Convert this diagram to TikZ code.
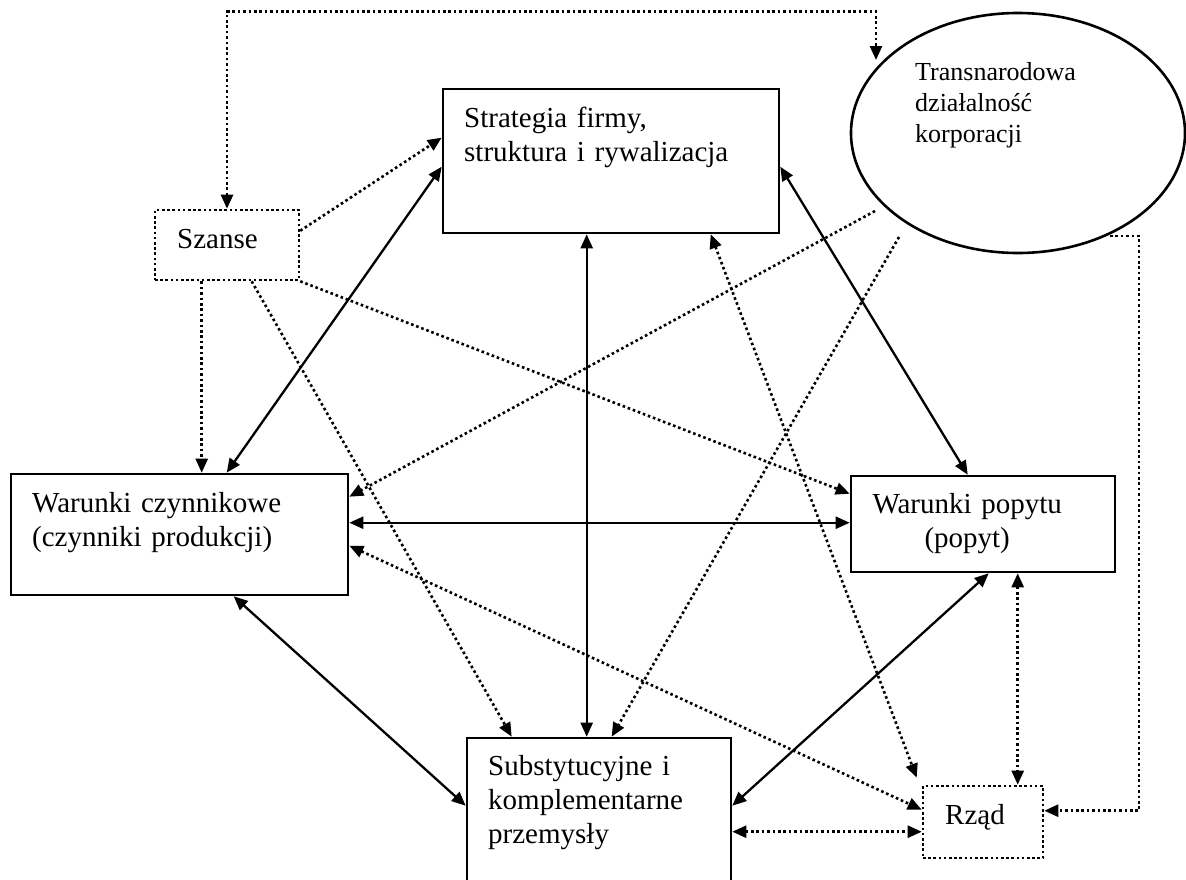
\documentclass[tikz,border=0pt]{standalone}
\usepackage{fontspec}
\setmainfont{Liberation Serif}
\usetikzlibrary{arrows.meta,shapes.geometric,calc}
\begin{document}
\begin{tikzpicture}[x=1pt,y=-1pt,
  >={Triangle[length=14pt,width=12pt]},
  box/.style={draw,line width=2.6pt,inner sep=0pt,fill=none},
  dbox/.style={draw,line width=2.6pt,inner sep=0pt,dash pattern=on 2.6pt off 2.6pt},
  sol/.style={line width=2.3pt},
  dot/.style={line width=2.6pt,dash pattern=on 2.6pt off 2.8pt},
  txt/.style={inner sep=0pt,anchor=base west,align=left,font=\fontsize{29}{34}\selectfont},
]
\useasboundingbox (0,0) rectangle (1186,879);
\clip (0,0) rectangle (1186,879);
\fill[white] (0,0) rectangle (1186,879);

% boxes
\node[box,minimum width=336pt,minimum height=144pt] (strat) at (611,161) {};
\node[box,ellipse,minimum width=334pt,minimum height=240pt] (trans) at (1018,133) {};
\node[dbox,minimum width=144pt,minimum height=70pt] (szanse) at (227,245) {};
\node[box,minimum width=337pt,minimum height=121pt] (wc) at (179.5,534.5) {};
\node[box,minimum width=264pt,minimum height=96pt] (wp) at (983,524) {};
\node[box,minimum width=264pt,minimum height=182pt] (sub) at (599,829) {};
\node[dbox,minimum width=120pt,minimum height=72pt] (rzad) at (983,822) {};

% texts
\node[txt,text width=320pt] (strat-t) at (464,127) {Strategia firmy,\\struktura i rywalizacja};
\node[txt,text width=200pt,font=\fontsize{26}{31}\selectfont] (trans-t) at (915,80) {Transnarodowa\\działalność\\korporacji};
\node[txt] (szanse-t) at (177,248) {Szanse};
\node[txt,text width=310pt] (wc-t) at (32,512) {Warunki czynnikowe\\(czynniki produkcji)};
\node[txt,text width=200pt,align=center] (wp-t) at (867,513) {Warunki popytu\\(popyt)};
\node[txt,text width=250pt] (sub-t) at (488,775) {Substytucyjne i\\komplementarne\\przemysły};
\node[txt] (rzad-t) at (945,824) {Rząd};

% solid connectors
\draw[sol,<->] ($(strat.north west)+(0,79)$) -- ($(wc.north west)+(217,0)$);
\draw[sol,<->] ($(strat.north east)+(0,79)$) -- ($(wp.north west)+(118,0)$);
\draw[sol,<->] ($(strat.south west)+(145,0)$) -- ($(sub.north west)+(121,0)$);
\draw[sol,<->] ($(wc.north east)+(0,50)$) -- ($(wp.north west)+(0,48)$);
\draw[sol,<->] ($(wc.south west)+(224,0)$) -- ($(sub.north west)+(0,69)$);
\draw[sol,<->] ($(wp.south west)+(139,0)$) -- ($(sub.north east)+(0,69)$);

% dotted connectors
\draw[dot,<->] (szanse.north) -- ++(0,-197) -| ($(trans.center)+(-142,-73)$);
\draw[dot,->] ($(szanse.north east)+(0,22)$) -- ($(strat.north west)+(0,50)$);
\draw[dot,->] (szanse.south east) -- ($(wp.north west)+(0,19)$);
\draw[dot,->] ($(szanse.south west)+(48,0)$) -- ($(wc.north west)+(192,0)$);
\draw[dot,->] ($(szanse.south west)+(98,0)$) -- ($(sub.north west)+(46,0)$);
\draw[dot,<->] ($(strat.south west)+(269,0)$) -- ($(rzad.north west)+(-5,-7)$);
\draw[dot,->] ($(trans.center)+(-143,78)$) -- ($(wc.north east)+(0,24)$);
\draw[dot,->] ($(trans.center)+(-119,104)$) -- ($(sub.north west)+(146,0)$);
\draw[dot,->] ($(trans.center)+(92,103)$) -- ++(29,0) |- ($(rzad.north east)+(0,26)$);
\draw[dot,<->] ($(wc.north east)+(0,73)$) -- ($(rzad.north west)+(0,25)$);
\draw[dot,<->] ($(wp.south west)+(168,0)$) -- ($(rzad.north west)+(96,0)$);
\draw[dot,<->] ($(sub.north east)+(0,95)$) -- ($(rzad.north west)+(0,47)$);
\end{tikzpicture}
\end{document}
